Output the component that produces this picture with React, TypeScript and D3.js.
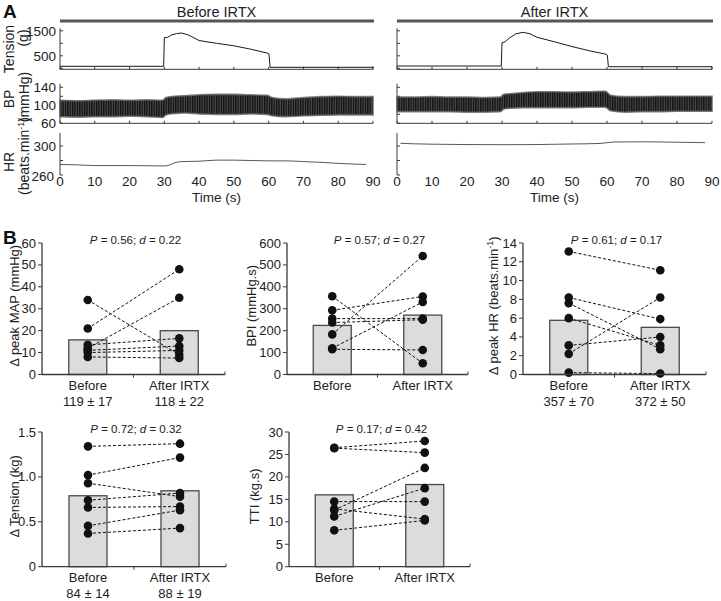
import React from 'react';
import * as d3 from 'd3';

const FONT = 'Arial, "Liberation Sans", Helvetica, sans-serif';

// ---------- Panel A data ----------
const timeTicks = [0, 10, 20, 30, 40, 50, 60, 70, 80, 90];

const tensionBeforeT = [0, 29.8, 30, 31, 32, 33.5, 35, 37, 40, 45, 50, 55, 59.8, 60.1, 60.4, 90];
const tensionBeforeV = [80, 80, 1225, 1240, 1330, 1390, 1410, 1330, 1110, 1000, 900, 760, 600, 570, 40, 40];
const tensionAfterT = [0, 29.8, 30, 31, 32, 34, 36, 38, 40, 45, 50, 55, 59.8, 60.1, 60.4, 90];
const tensionAfterV = [92, 92, 1020, 1070, 1200, 1380, 1440, 1380, 1240, 1060, 870, 700, 560, 530, 64, 64];

const bpT = [0, 5, 10, 15, 20, 25, 29.5, 30.5, 33, 36, 40, 45, 50, 55, 59.5, 61, 65, 70, 75, 80, 85, 90];
const bpBeforeHigh = [111, 110, 111, 112, 111, 112, 111, 117, 120, 121, 123, 124, 124, 123, 122, 117, 114, 117, 119, 120, 119, 119];
const bpBeforeLow = [75, 74, 75, 75, 76, 75, 73, 79, 82, 83, 81, 80, 80, 81, 80, 77, 75, 77, 78, 79, 79, 79];
const bpAfterHigh = [118, 118, 119, 118, 118, 117, 118, 124, 126, 128, 130, 130, 129, 130, 131, 122, 119, 119, 120, 120, 120, 120];
const bpAfterLow = [86, 86, 86, 86, 85, 85, 86, 92, 94, 95, 95, 95, 95, 96, 96, 88, 85, 86, 86, 87, 87, 87];

const hrBeforeT = [0, 5, 10, 20, 30, 31, 33, 35, 40, 45, 50, 55, 60, 65, 70, 75, 80, 85, 88];
const hrBeforeV = [274.5, 274, 273, 273, 272.5, 273, 277, 278.5, 279, 280.5, 280.5, 280, 279.5, 279.5, 278.5, 277.5, 276, 275, 274.5];
const hrAfterT = [1, 5, 10, 20, 30, 40, 50, 58, 62, 70, 80, 88];
const hrAfterV = [303.7, 303, 302.5, 302, 301.8, 302, 302.8, 303.5, 305.5, 305.8, 305.2, 304.6];

// ---------- Panel B data ----------
const groups = ['Before', 'After IRTX'];

const mapBefore = [34, 21, 13.5, 12, 11, 10, 8];
const mapAfter = [9, 48, 16.5, 35, 13, 11, 7.5];
const mapBars = [15.8, 20.0];
const mapSub = ['119 ± 17', '118 ± 22'];

const bpiBefore = [357, 293, 255, 237, 183, 120, 115];
const bpiAfter = [51, 356, 255, 250, 541, 331, 112];
const bpiBars = [224, 271];

const hrBefore = [13.1, 8.2, 7.6, 6.0, 3.1, 2.2, 0.2];
const hrAfter = [11.1, 5.9, 2.7, 3.1, 4.0, 8.2, 0.1];
const hrBars = [5.77, 5.02];
const hrSub = ['357 ± 70', '372 ± 50'];

const tenBefore = [1.34, 1.02, 0.93, 0.74, 0.66, 0.455, 0.37];
const tenAfter = [1.37, 1.215, 0.78, 0.82, 0.67, 0.63, 0.43];
const tenBars = [0.79, 0.845];
const tenSub = ['84 ± 14', '88 ± 19'];

const ttiBefore = [26.5, 26.4, 14.5, 12.9, 12.6, 11.2, 8.1];
const ttiAfter = [28.0, 25.4, 14.5, 10.6, 22.0, 17.5, 10.3];
const ttiBars = [16.0, 18.3];

// ---------- scales for panel A ----------
const xRanges: [number, number][] = [[60, 373], [397, 712]];
const yTension = d3.scaleLinear().domain([0, 1500]).range([68.3, 30.8]);
const yBP = d3.scaleLinear().domain([60, 140]).range([123.3, 87.3]);
const yHR = d3.scaleLinear().domain([260, 300]).range([175, 146]);

const AX = '#3a3a3a';

function PanelA({ side }: { side: number }) {
  const x = d3.scaleLinear().domain([0, 90]).range(xRanges[side]);
  const [x0, x1] = xRanges[side];
  const tT = side === 0 ? tensionBeforeT : tensionAfterT;
  const tV = side === 0 ? tensionBeforeV : tensionAfterV;
  const hi = side === 0 ? bpBeforeHigh : bpAfterHigh;
  const lo = side === 0 ? bpBeforeLow : bpAfterLow;
  const hT = side === 0 ? hrBeforeT : hrAfterT;
  const hV = side === 0 ? hrBeforeV : hrAfterV;

  const tensionLine = d3.line<number>().x((_, i) => x(tT[i])).y((d) => yTension(d))(tV) || '';
  const bpArea = d3.area<number>().x((_, i) => x(bpT[i])).y0((_, i) => yBP(lo[i])).y1((d) => yBP(d)).curve(d3.curveMonotoneX)(hi) || '';
  const hrLine = d3.line<number>().x((_, i) => x(hT[i])).y((d) => yHR(d)).curve(d3.curveMonotoneX)(hV) || '';

  const tensBottom = yTension(-40);
  const tensTop = yTension(1600);
  const bpBottom = yBP(60);
  const bpTop = yBP(148);
  const hrBottom = yHR(260);
  const hrTop = yHR(318);

  return (
    <g>
      <line x1={x0} x2={x1 + 1} y1={21} y2={21} stroke="#555" strokeWidth={3} />
      <text x={(x0 + x1) / 2} y={17} textAnchor="middle" fontSize={14.5} fill="#222">
        {side === 0 ? 'Before IRTX' : 'After IRTX'}
      </text>

      {/* Tension */}
      <line x1={x0} x2={x0} y1={tensBottom} y2={tensTop} stroke={AX} strokeWidth={1} />
      <line x1={x0} x2={x1} y1={tensBottom} y2={tensBottom} stroke={AX} strokeWidth={1} />
      <line x1={x1} x2={x1} y1={tensBottom} y2={tensBottom - 3} stroke={AX} strokeWidth={1} />
      {[0, 500, 1000, 1500].map((v) => (
        <line key={v} x1={x0} x2={x0 + 3} y1={yTension(v)} y2={yTension(v)} stroke={AX} strokeWidth={1} />
      ))}
      {timeTicks.map((t) => (
        <line key={'tt' + t} x1={x(t)} x2={x(t)} y1={tensBottom} y2={tensBottom - 2.5} stroke={AX} strokeWidth={1} />
      ))}
      <path d={tensionLine} fill="none" stroke="#1a1a1a" strokeWidth={1} />

      {/* BP */}
      <line x1={x0} x2={x0} y1={bpBottom} y2={bpTop} stroke={AX} strokeWidth={1} />
      <line x1={x0} x2={x1} y1={bpBottom} y2={bpBottom} stroke={AX} strokeWidth={1} />
      {[60, 80, 100, 120, 140].map((v) => (
        <line key={v} x1={x0} x2={x0 + 3} y1={yBP(v)} y2={yBP(v)} stroke={AX} strokeWidth={1} />
      ))}
      {timeTicks.map((t) => (
        <line key={'bt' + t} x1={x(t)} x2={x(t)} y1={bpBottom} y2={bpBottom - 2.5} stroke={AX} strokeWidth={1} />
      ))}
      <path d={bpArea} fill="url(#bpHatch)" stroke="#5a5a5a" strokeWidth={1.8} strokeOpacity={0.75} />

      {/* HR */}
      <line x1={x0} x2={x0} y1={hrBottom} y2={hrTop} stroke={AX} strokeWidth={1} />
      {[260, 280, 300].map((v) => (
        <line key={v} x1={x0} x2={x0 + 3} y1={yHR(v)} y2={yHR(v)} stroke={AX} strokeWidth={1} />
      ))}
      <path d={hrLine} fill="none" stroke="#444" strokeWidth={0.9} />

      {timeTicks.map((t) => (
        <text key={'lab' + t} x={x(t)} y={186} textAnchor="middle" fontSize={13.5} fill="#222">
          {t}
        </text>
      ))}
      <text x={(x0 + x1) / 2} y={202} textAnchor="middle" fontSize={13.5} fill="#222">
        Time (s)
      </text>

      {side === 0 && (
        <g fontSize={13.5} fill="#222" textAnchor="end">
          <text x={56} y={yTension(1500)} dy="0.35em">1500</text>
          <text x={56} y={yTension(500)} dy="0.35em">500</text>
          <text x={56} y={yBP(140)} dy="0.35em">140</text>
          <text x={56} y={yBP(100)} dy="0.35em">100</text>
          <text x={56} y={yBP(60)} dy="0.35em">60</text>
          <text x={56} y={yHR(300)} dy="0.35em">300</text>
          <text x={54} y={yHR(260) + 1} dy="0.35em">260</text>
        </g>
      )}
    </g>
  );
}

function RotLabel({ x, y, children, size = 14 }: { x: number; y: number; children: React.ReactNode; size?: number }) {
  return (
    <text transform={`translate(${x},${y}) rotate(-90)`} textAnchor="middle" dy="0.35em" fontSize={size} fill="#222">
      {children}
    </text>
  );
}

type Sub = {
  ax: number;
  ex: number;
  row: number;
  domain: [number, number];
  ticks: number[];
  fmt: (d: number) => string;
  before: number[];
  after: number[];
  bars: number[];
  ylabel: React.ReactNode;
  labelX: number;
  p: string;
  d: string;
  sub?: string[];
};

const rows = [
  { y0: 374.5, yTop: 243 },
  { y0: 566.7, yTop: 432 },
];

const subplots: Sub[] = [
  {
    ax: 42, ex: 225, row: 0, domain: [0, 60], ticks: d3.range(0, 61, 10), fmt: (d) => String(d),
    before: mapBefore, after: mapAfter, bars: mapBars, ylabel: 'Δ peak MAP (mmHg)', labelX: 14,
    p: '0.56', d: '0.22', sub: mapSub,
  },
  {
    ax: 287, ex: 468, row: 0, domain: [0, 600], ticks: d3.range(0, 601, 100), fmt: (d) => String(d),
    before: bpiBefore, after: bpiAfter, bars: bpiBars, ylabel: 'BPI (mmHg.s)', labelX: 251,
    p: '0.57', d: '0.27',
  },
  {
    ax: 523, ex: 706, row: 0, domain: [0, 14], ticks: d3.range(0, 15, 2), fmt: (d) => String(d),
    before: hrBefore, after: hrAfter, bars: hrBars,
    ylabel: (
      <>
        Δ peak HR (beats.min
        <tspan dy={-5} fontSize={9}>-1</tspan>
        <tspan dy={5}>)</tspan>
      </>
    ),
    labelX: 493, p: '0.61', d: '0.17', sub: hrSub,
  },
  {
    ax: 42, ex: 226, row: 1, domain: [0, 1.5], ticks: [0, 0.5, 1, 1.5], fmt: (d) => (d === 0 ? '0' : d.toFixed(1)),
    before: tenBefore, after: tenAfter, bars: tenBars, ylabel: 'Δ Tension (kg)', labelX: 14,
    p: '0.72', d: '0.32', sub: tenSub,
  },
  {
    ax: 289, ex: 470, row: 1, domain: [0, 30], ticks: d3.range(0, 31, 5), fmt: (d) => String(d),
    before: ttiBefore, after: ttiAfter, bars: ttiBars, ylabel: 'TTI (kg.s)', labelX: 254,
    p: '0.17', d: '0.42',
  },
];

function SubPlot({ s }: { s: Sub }) {
  const { y0, yTop } = rows[s.row];
  const y = d3.scaleLinear().domain(s.domain).range([y0, yTop]);
  const x = d3.scalePoint<string>().domain(groups).range([s.ax, s.ex]).padding(0.5);
  const cx0 = x(groups[0]) as number;
  const cx1 = x(groups[1]) as number;
  const bw = 38;
  const mid = (s.ax + s.ex) / 2;
  return (
    <g>
      {s.bars.map((b, i) => {
        const cx = i === 0 ? cx0 : cx1;
        return (
          <rect key={i} x={cx - bw / 2} y={y(b)} width={bw} height={y0 - y(b)} fill="#dcdcdc" stroke="#4a4a4a" strokeWidth={1.3} />
        );
      })}
      {s.before.map((b, i) => (
        <line key={'l' + i} x1={cx0} x2={cx1} y1={y(b)} y2={y(s.after[i])} stroke="#111" strokeWidth={1} strokeDasharray="3,2" />
      ))}
      {s.before.map((b, i) => (
        <circle key={'b' + i} cx={cx0} cy={y(b)} r={4.3} fill="#111" />
      ))}
      {s.after.map((a, i) => (
        <circle key={'a' + i} cx={cx1} cy={y(a)} r={4.3} fill="#111" />
      ))}
      <line x1={s.ax} x2={s.ax} y1={y0} y2={yTop} stroke={AX} strokeWidth={1.3} />
      <line x1={s.ax} x2={s.ex} y1={y0} y2={y0} stroke={AX} strokeWidth={1.3} />
      <line x1={mid} x2={mid} y1={y0} y2={y0 + 3} stroke={AX} strokeWidth={1} />
      <line x1={s.ex} x2={s.ex} y1={y0} y2={y0 - 3} stroke={AX} strokeWidth={1} />
      {s.ticks.map((t) => (
        <g key={t}>
          <line x1={s.ax - 4} x2={s.ax} y1={y(t)} y2={y(t)} stroke={AX} strokeWidth={1} />
          <text x={s.ax - 6} y={y(t)} dy="0.35em" textAnchor="end" fontSize={13} fill="#222">
            {s.fmt(t)}
          </text>
        </g>
      ))}
      <RotLabel x={s.labelX} y={(y0 + yTop) / 2 - 3} size={13}>
        {s.ylabel}
      </RotLabel>
      <text x={mid + 2} y={yTop + 1} textAnchor="middle" fontSize={11.5} fill="#222">
        <tspan fontStyle="italic">P</tspan> = {s.p}; <tspan fontStyle="italic">d</tspan> = {s.d}
      </text>
      {groups.map((g, i) => (
        <text key={g} x={i === 0 ? cx0 : cx1} y={y0 + 15.5} textAnchor="middle" fontSize={13} fill="#222">
          {g}
        </text>
      ))}
      {s.sub &&
        s.sub.map((t, i) => (
          <text key={t} x={i === 0 ? cx0 : cx1} y={y0 + 31} textAnchor="middle" fontSize={13} fill="#222">
            {t}
          </text>
        ))}
    </g>
  );
}

export default function App() {
  return (
    <svg
      width={721}
      height={601}
      viewBox="0 0 721 601"
      style={{ position: 'absolute', left: 0, top: 0, background: '#fff' }}
      fontFamily={FONT}
    >
      <defs>
        <pattern id="bpHatch" patternUnits="userSpaceOnUse" width={2.4} height={6}>
          <rect x={0} y={0} width={2.4} height={6} fill="#4a4a4a" />
          <rect x={0} y={0} width={1.3} height={6} fill="#111" />
        </pattern>
      </defs>
      <rect x={0} y={0} width={721} height={601} fill="#fff" />
      <text x={3} y={18} fontSize={19} fontWeight="bold" fill="#111">A</text>
      <PanelA side={0} />
      <PanelA side={1} />
      <RotLabel x={9} y={49}>Tension</RotLabel>
      <RotLabel x={23} y={38}>(g)</RotLabel>
      <RotLabel x={9} y={99}>BP</RotLabel>
      <RotLabel x={24} y={97}>(mmHg)</RotLabel>
      <RotLabel x={9} y={162}>HR</RotLabel>
      <RotLabel x={24} y={156}>
        (beats.min<tspan dy={-5} fontSize={9}>-1</tspan>
        <tspan dy={5}>)</tspan>
      </RotLabel>

      <text x={3} y={244} fontSize={19} fontWeight="bold" fill="#111">B</text>
      {subplots.map((s, i) => (
        <SubPlot key={i} s={s} />
      ))}
    </svg>
  );
}
